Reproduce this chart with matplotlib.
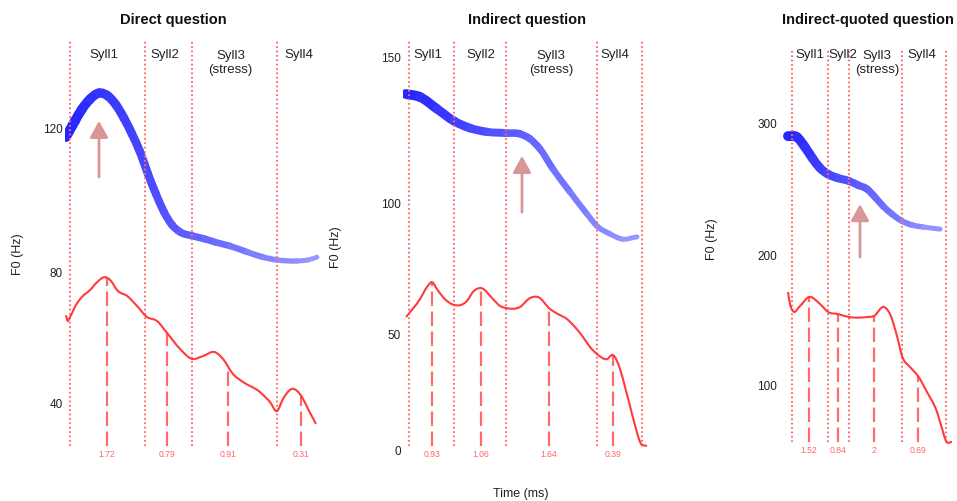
import numpy as np
import matplotlib
matplotlib.use("Agg")
import matplotlib.pyplot as plt
from matplotlib.path import Path
from matplotlib.patches import PathPatch

plt.rcParams['font.family'] = ['Liberation Sans', 'DejaVu Sans']

W, H = 957, 502

# Direct question
direct_blue_t = [0, 18, 32, 48, 66, 84, 100, 116, 132, 148, 164, 180, 196,
                 212, 228, 252, 278, 298, 328, 362, 394, 422, 462, 484, 502]
direct_blue_f0 = [117.6, 121.9, 125.0, 127.6, 129.2, 128.4, 126.1, 122.6,
                  118.4, 113.6, 107.6, 102.1, 97.1, 93.5, 91.5, 90.4, 89.5,
                  88.6, 87.5, 85.8, 84.3, 83.5, 83.2, 83.5, 84.3]
direct_red_t = [0, 3, 8, 20, 32, 48, 62, 78, 88, 104, 122, 142, 162, 182,
                202, 228, 252, 274, 298, 314, 334, 354, 388, 408, 422, 434,
                452, 472, 484, 500]
direct_red_f0 = [67.2, 65.6, 66.7, 70.3, 72.7, 74.7, 77.0, 78.5, 77.7, 74.4,
                 73.0, 70.0, 66.7, 65.5, 61.9, 57.0, 53.9, 54.8, 56.0, 53.9,
                 49.2, 46.7, 43.5, 40.3, 37.4, 41.3, 44.5, 41.9, 38.1, 33.2]
direct_bounds = [8, 158, 252, 422]
direct_peaks = [82, 202, 324, 470]
direct_peak_labels = ['1.72', '0.79', '0.91', '0.31']
direct_syll_t = [76, 198, 329, 466]
direct_arrow = (66, 106.8, 121.9)
direct_yticks = [40, 80, 120]

# Indirect question
indirect_blue_t = [0, 28, 62, 96, 128, 162, 200, 228, 248, 268, 294, 328,
                   362, 382, 408, 432, 462]
indirect_blue_f0 = [137.8, 136.8, 132.8, 128.7, 126.3, 125.0, 124.6, 124.3,
                    122.6, 119.1, 112.1, 104.0, 96.0, 91.6, 88.7, 86.8, 87.6]
indirect_red_t = [0, 28, 42, 52, 62, 74, 96, 122, 134, 150, 174, 188, 200,
                  228, 248, 264, 288, 304, 322, 338, 354, 368, 382, 402, 414,
                  428, 438, 448, 460, 468, 482]
indirect_red_f0 = [56.8, 63.9, 68.6, 70.5, 67.8, 64.7, 61.6, 63.2, 66.7, 68.2,
                   63.9, 61.2, 60.4, 60.8, 64.3, 64.7, 60.0, 58.0, 56.0, 52.8,
                   48.8, 44.7, 41.8, 39.7, 41.4, 35.6, 28.0, 19.7, 9.6, 3.7,
                   1.8]
indirect_bounds = [6, 96, 200, 382, 472]
indirect_peaks = [52, 150, 286, 414]
indirect_peak_labels = ['0.93', '1.06', '1.64', '0.39']
indirect_syll_t = [44, 150, 290, 418]
indirect_arrow = (232, 96.7, 116.7)
indirect_yticks = [0, 50, 100, 150]

# Indirect-quoted question
quoted_blue_t = [0, 18, 34, 50, 64, 80, 100, 122, 140, 158, 174, 190, 208,
                 228, 248, 270, 304]
quoted_blue_f0 = [289.4, 288.6, 281.1, 272.1, 265.3, 260.7, 257.7, 255.5,
                  252.4, 249.4, 243.3, 236.5, 230.4, 225.1, 222.1, 220.6,
                  219.0]
quoted_red_t = [0, 4, 10, 24, 42, 64, 80, 100, 122, 158, 172, 192, 204, 218,
                228, 244, 260, 278, 298, 310, 316, 328]
quoted_red_f0 = [170.9, 161.7, 156.3, 160.2, 167.1, 161.7, 155.6, 154.0,
                 151.7, 151.7, 152.5, 159.4, 154.0, 137.1, 121.7, 113.2,
                 106.2, 93.8, 78.3, 62.7, 55.7, 54.9]
quoted_bounds = [8, 80, 122, 228, 316]
quoted_peaks = [42, 100, 172, 260]
quoted_peak_labels = ['1.52', '0.84', '2', '0.69']
quoted_syll_t = [44, 110, 178, 268]
quoted_arrow = (144, 197.7, 238.0)
quoted_yticks = [100, 200, 300]

syll_labels = ['Syll1', 'Syll2', 'Syll3\n(stress)', 'Syll4']


def quad_scale(v0, a, b):
    """Slightly curved y scale (pixels above v0) as seen in the source."""
    def fwd(v):
        u = np.asarray(v, dtype=float) - v0
        return a * u + b * u * u

    def inv(d):
        d = np.asarray(d, dtype=float)
        return v0 + (-a + np.sqrt(np.clip(a * a + 4 * b * d, 0, None))) / (2 * b)
    return fwd, inv


def curve_pieces(t, f):
    """Cubic bezier pieces through the points (smooth line style)."""
    t = np.asarray(t, float)
    f = np.asarray(f, float)
    m = np.gradient(f, t)
    pieces = []
    for i in range(len(t) - 1):
        dx = (t[i + 1] - t[i]) / 3
        pieces.append([(t[i], f[i]),
                       (t[i] + dx, f[i] + m[i] * dx),
                       (t[i + 1] - dx, f[i + 1] - m[i + 1] * dx),
                       (t[i + 1], f[i + 1])])
    return pieces


def smooth_line(ax, t, f, **kw):
    verts, codes = [], []
    for k, pc in enumerate(curve_pieces(t, f)):
        if k == 0:
            verts.append(pc[0])
            codes.append(Path.MOVETO)
        verts.extend(pc[1:])
        codes.extend([Path.CURVE4] * 3)
    ax.add_patch(PathPatch(Path(verts, codes), fill=False, **kw))


def band(ax, t, f0):
    t0, t1 = t[0], t[-1]
    blue = np.array([0.1, 0.1, 1.0])
    for pc in curve_pieces(t, f0):
        frac = ((pc[0][0] + pc[3][0]) / 2 - t0) / (t1 - t0)
        fade = 0.04 + 0.52 * frac
        col = blue * (1 - fade) + fade
        path = Path(pc, [Path.MOVETO] + [Path.CURVE4] * 3)
        ax.add_patch(PathPatch(path, fill=False, edgecolor=col,
                               lw=7.2 - 3.8 * frac, capstyle='round',
                               zorder=2))


panels = [
    dict(title="Direct question", title_xy=(173, 20), ylab_xy=(18, 254),
         rect=(65, 320), origin=66, scale=(40, 404, 3.1125, 0.0040625),
         lines=(42, 447), blue=(direct_blue_t, direct_blue_f0),
         red=(direct_red_t, direct_red_f0), bounds=direct_bounds,
         peaks=direct_peaks, plabels=direct_peak_labels,
         syll=direct_syll_t, arrow=direct_arrow, yticks=direct_yticks),
    dict(title="Indirect question", title_xy=(527, 20), ylab_xy=(336, 247),
         rect=(403, 652), origin=406, scale=(0, 451, 2.17, 0.003),
         lines=(42, 447), blue=(indirect_blue_t, indirect_blue_f0),
         red=(indirect_red_t, indirect_red_f0), bounds=indirect_bounds,
         peaks=indirect_peaks, plabels=indirect_peak_labels,
         syll=indirect_syll_t, arrow=indirect_arrow, yticks=indirect_yticks),
    dict(title="Indirect-quoted question", title_xy=(868, 20),
         ylab_xy=(712, 239), rect=(779, 957), origin=788,
         scale=(100, 385, 1.29, 0.0001), lines=(50, 443),
         blue=(quoted_blue_t, quoted_blue_f0),
         red=(quoted_red_t, quoted_red_f0), bounds=quoted_bounds,
         peaks=quoted_peaks, plabels=quoted_peak_labels,
         syll=quoted_syll_t, arrow=quoted_arrow, yticks=quoted_yticks),
]

AX_TOP, AX_BOT = 38, 460

fig = plt.figure(figsize=(W / 100, H / 100), dpi=100)

for p in panels:
    x0, x1 = p['rect']
    ax = fig.add_axes([x0 / W, 1 - AX_BOT / H, (x1 - x0) / W,
                       (AX_BOT - AX_TOP) / H])
    v0, y0, a, b = p['scale']
    fwd, inv = quad_scale(v0, a, b)
    ax.set_yscale('function', functions=(fwd, inv))

    lo = float(inv(y0 - p['lines'][1]))
    hi = float(inv(y0 - p['lines'][0]))

    band(ax, *p['blue'])
    red_t, red_f0 = p['red']
    smooth_line(ax, red_t, red_f0, edgecolor='#ff3b3b', lw=1.5, zorder=4)

    ax.vlines(p['bounds'], lo, hi, colors='#ff6b6b', lw=1.5,
              linestyles=[(0, (0.8, 1.3))], zorder=3)
    tops = np.interp(p['peaks'], red_t, red_f0)
    ax.vlines(p['peaks'], lo, tops, colors='#ff6a6a', lw=1.6,
              linestyles=[(0, (6.5, 2.5))], zorder=3)
    for t, lab in zip(p['peaks'], p['plabels']):
        ax.annotate(lab, (t, lo), xytext=(0, -2), textcoords='offset points',
                    ha='center', va='top', fontsize=6.2, color='#ff6666')

    for t, lab in zip(p['syll'], syll_labels):
        ypx = 63 if '\n' in lab else 55
        ax.text(t, (AX_BOT - ypx) / (AX_BOT - AX_TOP), lab,
                transform=ax.get_xaxis_transform(), ha='center', va='center',
                fontsize=9.5, color='#222222', linespacing=1.15)

    at, tail, tip = p['arrow']
    ax.annotate('', xy=(at, tip), xytext=(at, tail),
                arrowprops=dict(arrowstyle='-|>,head_length=1.0,head_width=0.55',
                                mutation_scale=10, color='#d99696', lw=2,
                                shrinkA=0, shrinkB=0), zorder=5)

    ax.set_xlim((x0 - p['origin']) * 2, (x1 - p['origin']) * 2)
    ax.set_ylim(inv(y0 - AX_BOT), inv(y0 - AX_TOP))
    ax.set_yticks(p['yticks'])
    ax.set_yticklabels([str(v) for v in p['yticks']])
    ax.set_xticks([])
    ax.tick_params(axis='y', length=0, pad=1.5, labelsize=8.5,
                   labelcolor='#222222')
    for s in ax.spines.values():
        s.set_visible(False)
    ax.patch.set_visible(False)

    tx, ty = p['title_xy']
    fig.text(tx / W, 1 - ty / H, p['title'], ha='center', va='center',
             fontsize=10.5, fontweight='bold', color='#111111')
    lx, ly = p['ylab_xy']
    fig.text(lx / W, 1 - ly / H, "F0 (Hz)", ha='center', va='center',
             rotation=90, fontsize=9, color='#222222')

fig.text(521 / W, 1 - 494 / H, "Time (ms)", ha='center', va='center',
         fontsize=9, color='#222222')

fig.savefig("out.png", dpi=100)
